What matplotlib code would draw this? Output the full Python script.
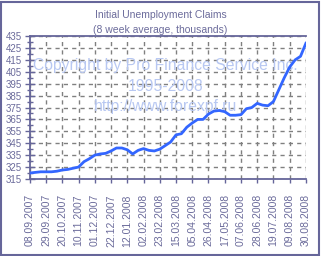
import matplotlib
matplotlib.use('Agg')
import matplotlib.pyplot as plt
import matplotlib.patches as patches
import numpy as np
import pandas as pd

# weekly values, 8 week average (thousands)
claims = [320, 320.5, 321, 321, 321, 321.5, 322.5, 323, 324, 325,
          329.5, 332, 335, 336, 336.5, 338.5, 341, 341, 339.5, 336,
          339, 340.5, 339, 338.5, 340, 343, 346, 352, 353, 358.5,
          362, 365, 365, 369.5, 372, 372.5, 371.5, 368.5, 368.5, 369,
          374, 375, 378.5, 377, 376.5, 380, 390, 400, 409, 415,
          418, 429]
dates = pd.date_range('2007-09-08', periods=len(claims), freq='7D')
tick_dates = dates[::3]
tick_labels = [d.strftime('%d.%m.%Y') for d in tick_dates]
y_ticks = list(range(315, 436, 10))

axis_col = '#66669a'
text_col = '#6b6b9b'
plt.rcParams['font.family'] = ['Liberation Sans', 'DejaVu Sans']

fig = plt.figure(figsize=(3.21, 2.56), dpi=100)
fig.patches.append(patches.Rectangle((0.003, 0.004), 0.991, 0.99, transform=fig.transFigure,
                                     fill=False, edgecolor=axis_col, linewidth=1.5))
ax = fig.add_axes([0.093, 0.301, 0.86, 0.558])

x = np.arange(len(claims))
ax.plot(x, claims, color='#3366ff', linewidth=2, zorder=3)

ax.set_xlim(0, len(claims) - 1)
ax.set_ylim(315, 435)
ax.set_yticks(y_ticks)
ax.set_yticks(range(320, 435, 10), minor=True)
ax.set_xticks(x[::3])
ax.set_xticklabels(tick_labels, rotation=90)
ax.grid(True, which='major', color='#808080', linestyle=(0, (3, 3)), linewidth=1)

ax.spines['right'].set_visible(False)
for s in ['left', 'bottom', 'top']:
    ax.spines[s].set_color(axis_col)
    ax.spines[s].set_linewidth(1.3)

ax.tick_params(axis='y', which='major', direction='inout', length=7, width=1, color=axis_col,
               labelcolor=text_col, labelsize=7, pad=2)
ax.tick_params(axis='y', which='minor', direction='inout', length=5, width=1, color=axis_col)
ax.tick_params(axis='x', direction='out', length=3, width=1, color=axis_col,
               labelcolor=text_col, labelsize=7.5, pad=8)

fig.text(0.5, 0.941, 'Initial Unemployment Claims', ha='center', va='center',
         color=text_col, fontsize=7.5)
fig.text(0.5, 0.881, '(8 week average, thousands)', ha='center', va='center',
         color=text_col, fontsize=7.5)

wm = '#b8c8f2'
ax.text(0.49, 0.792, 'Copyright by Pro Finance Service Inc.', transform=ax.transAxes,
        ha='center', va='center', color=wm, fontsize=11.3, zorder=2)
ax.text(0.49, 0.645, '1995-2008', transform=ax.transAxes,
        ha='center', va='center', color=wm, fontsize=11.3, zorder=2)
ax.text(0.49, 0.51, 'http://www.forexpf.ru', transform=ax.transAxes,
        ha='center', va='center', color=wm, fontsize=11.3, zorder=2)

fig.savefig('out.png', dpi=100)
